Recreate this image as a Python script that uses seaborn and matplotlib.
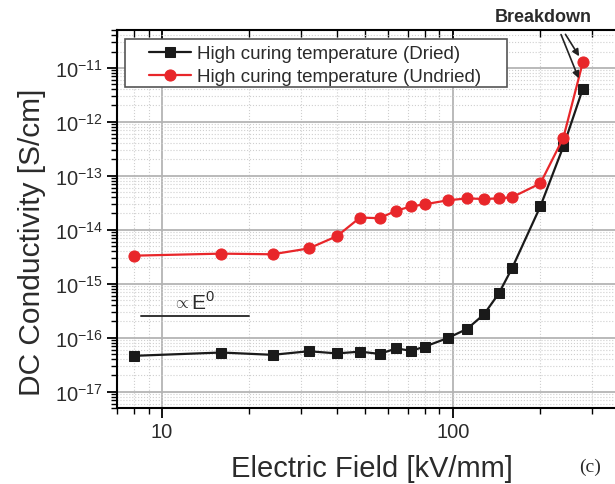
import numpy as np
import matplotlib
matplotlib.use("Agg")
import matplotlib.pyplot as plt
import matplotlib.ticker as mticker
import matplotlib.lines as mlines
import matplotlib.patches as mpatches
import seaborn as sns

# ─── Data ──────────────────────────────────────────────────
FIELD = [8, 16, 24, 32, 40, 48, 56, 64, 72, 80, 96, 112, 128, 144, 160, 200, 240, 280]

DRIED = [4.6e-17, 5.3e-17, 4.8e-17, 5.6e-17, 5.1e-17, 5.5e-17, 5.0e-17, 6.3e-17,
         5.7e-17, 6.8e-17, 9.8e-17, 1.45e-16, 2.7e-16, 6.6e-16, 1.95e-15,
         2.7e-14, 3.5e-13, 4.1e-12]

UNDRIED = [3.3e-15, 3.6e-15, 3.5e-15, 4.5e-15, 7.6e-15, 1.68e-14, 1.63e-14, 2.26e-14,
           2.7e-14, 2.95e-14, 3.5e-14, 3.8e-14, 3.7e-14, 3.8e-14, 4.0e-14,
           7.2e-14, 5.07e-13, 1.27e-11]

LABELS = ["High curing temperature (Dried)", "High curing temperature (Undried)"]

# y decades that carry a label
Y_EXP = [-17, -16, -15, -14, -13, -12, -11]

# reference slope line  "∝ E^0"
E0_X = [8.5, 20]
E0_Y = [2.5e-16, 2.5e-16]

# ─── Style ────────────────────────────────────────────────
BLACK = "#1a1a1a"
RED = "#e8262a"
TXT = "#2b2b2b"
MINOR_SUBS = np.arange(2, 10)
W, H = 615, 485

sns.set_theme(style="whitegrid")
plt.rcParams["font.family"] = ["Liberation Sans", "DejaVu Sans"]
plt.rcParams["mathtext.fontset"] = "custom"
plt.rcParams["mathtext.rm"] = "Liberation Sans"

fig = plt.figure(figsize=(W / 100, H / 100), dpi=100)
ax = fig.add_axes([0.19, 0.157, 0.831, 0.779])
ax.set_facecolor("white")
ax.set_xscale("log")
ax.set_yscale("log")

sns.lineplot(x=FIELD, y=DRIED, ax=ax, color=BLACK, marker="s", markersize=7.5,
             markeredgecolor=BLACK, linewidth=1.6, label=LABELS[0], sort=False)
sns.lineplot(x=FIELD, y=UNDRIED, ax=ax, color=RED, marker="o", markersize=8,
             markeredgecolor=RED, linewidth=1.6, label=LABELS[1], sort=False)

ax.plot(E0_X, E0_Y, color="#333333", linewidth=1.4)
ax.text(11.6, 4.4e-16, r"$\propto$", fontsize=12, color=TXT, ha="center", va="center")
ax.text(12.6, 4.6e-16, r"E$^{0}$", fontsize=15, color=TXT, ha="left", va="center")

ax.set_xlim(7, 400)
ax.set_ylim(5e-18, 5e-11)

# grid
ax.grid(which="major", color="#b4b4b4", linewidth=1.3, linestyle="-")
ax.grid(which="minor", color="#cfcfcf", linewidth=0.8, linestyle=":")

# ticks
ax.xaxis.set_major_locator(mticker.LogLocator(base=10, numticks=10))
ax.xaxis.set_minor_locator(mticker.LogLocator(base=10, subs=MINOR_SUBS, numticks=20))
ax.xaxis.set_minor_formatter(mticker.NullFormatter())
ax.xaxis.set_major_formatter(mticker.FuncFormatter(lambda v, p: f"{v:g}"))
ax.yaxis.set_major_locator(mticker.FixedLocator([10.0 ** e for e in Y_EXP]))
ax.yaxis.set_major_formatter(mticker.LogFormatterSciNotation())
ax.yaxis.set_minor_locator(mticker.LogLocator(base=10, subs=MINOR_SUBS, numticks=50))
ax.yaxis.set_minor_formatter(mticker.NullFormatter())

ax.tick_params(which="major", direction="out", length=7, width=1.3, color="black",
               labelsize=14.5, labelcolor=TXT, left=True, bottom=True, top=True, pad=3)
ax.tick_params(which="minor", direction="out", length=4, width=1.0, color="black",
               left=True, bottom=True, top=True)

for side in ["left", "bottom", "top", "right"]:
    ax.spines[side].set_color("black")
    ax.spines[side].set_linewidth(1.5)

# labels
ax.set_xlabel("Electric Field [kV/mm]", fontsize=21, color=TXT, va="top")
ax.xaxis.set_label_coords(0.5, -0.122)
ax.set_ylabel("DC Conductivity [S/cm]", fontsize=21.5, color=TXT)
ax.yaxis.set_label_coords(-0.138, 0.44)

# legend: entries without frame, box drawn separately (Origin-style wide padding)
leg = ax.legend(loc="upper left", bbox_to_anchor=(149 / W, 1 - 46 / H),
                bbox_transform=fig.transFigure, borderaxespad=0, borderpad=0,
                fontsize=13.5, frameon=False, handlelength=2.25, handletextpad=0.32,
                labelspacing=0.33)
for t in leg.get_texts():
    t.set_color(TXT)
leg.set_zorder(6)
box = mpatches.Rectangle((125 / W, 1 - 88 / H), (507 - 125) / W, 48 / H,
                         transform=fig.transFigure, facecolor="white",
                         edgecolor="#555555", linewidth=1.2, zorder=5)
ax.add_patch(box)

# breakdown annotation
fig.text(543 / W, 1 - 17 / H, "Breakdown", fontsize=13, fontweight="bold",
         color=TXT, ha="center", va="center")
ax.annotate("", xy=(FIELD[-1], UNDRIED[-1]), xycoords="data",
            xytext=(564 / W, 1 - 33 / H), textcoords="figure fraction",
            arrowprops=dict(arrowstyle="-|>", color="#222222", lw=1.2, shrinkB=5,
                            mutation_scale=10))
ax.annotate("", xy=(FIELD[-1], DRIED[-1]), xycoords="data",
            xytext=(560 / W, 1 - 33 / H), textcoords="figure fraction",
            arrowprops=dict(arrowstyle="-|>", color="#222222", lw=1.2, shrinkB=8,
                            mutation_scale=10))

fig.text(590 / W, 1 - 467 / H, "(c)", fontsize=14, family="Liberation Serif",
         color=TXT, ha="center", va="center")

# top ticks point inward (and a bit longer), bottom ticks outward
fig.canvas.draw()
for tick in ax.xaxis.get_major_ticks():
    tick.tick2line.set_marker(mlines.TICKDOWN)
    tick.tick2line.set_markersize(8)
    tick.tick2line.set_zorder(7)
for tick in ax.xaxis.get_minor_ticks():
    tick.tick2line.set_marker(mlines.TICKDOWN)
    tick.tick2line.set_markersize(5)
    tick.tick2line.set_zorder(7)

fig.savefig("out.png", dpi=100)
